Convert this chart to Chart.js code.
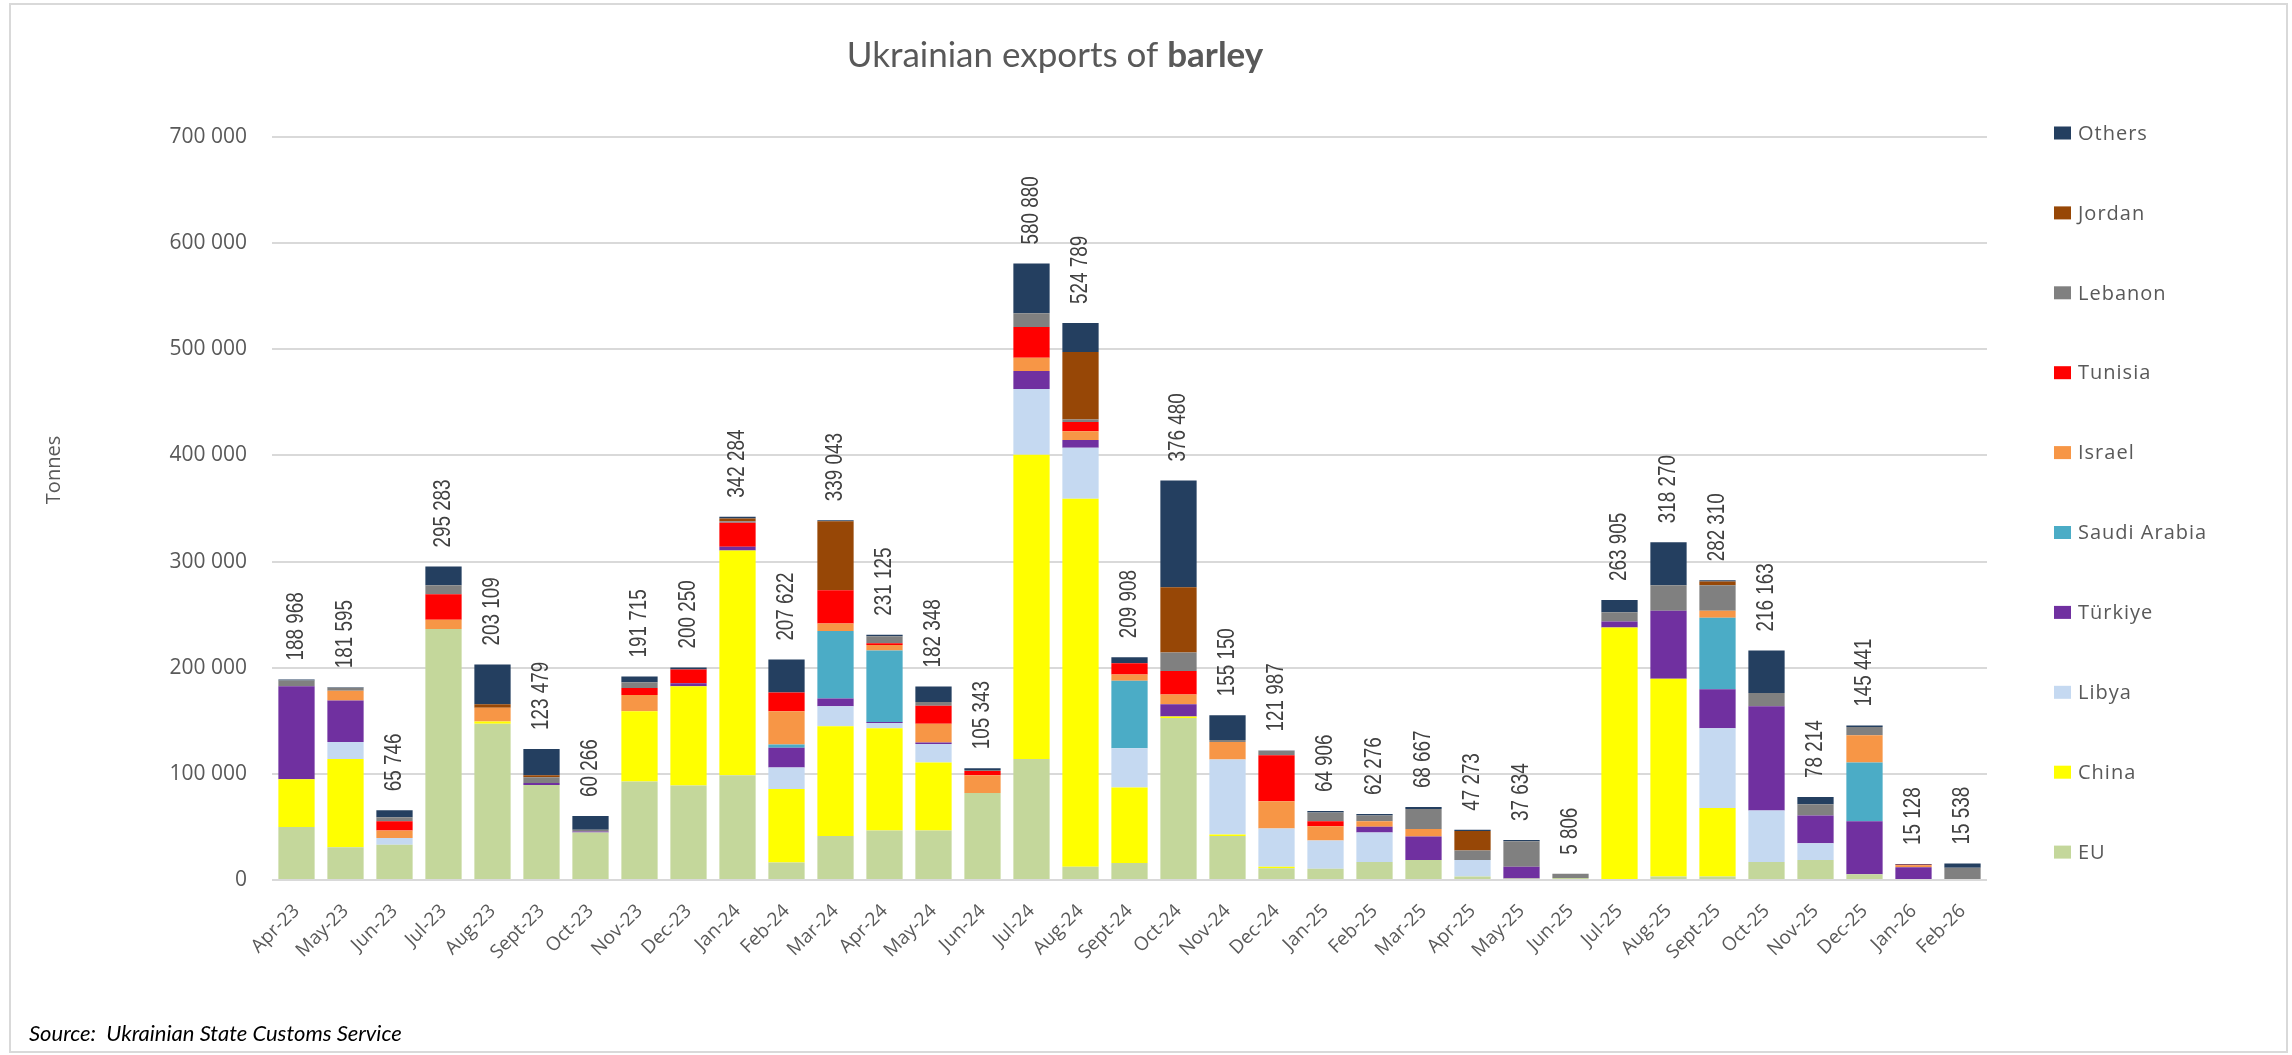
<!DOCTYPE html>
<html>
<head>
<meta charset="utf-8">
<title>Ukrainian exports of barley</title>
<script src="https://cdn.jsdelivr.net/npm/chart.js@4.4.1/dist/chart.umd.min.js"></script>
<style>
  body { margin: 0; background: #ffffff; }
  #wrap { width: 2292px; height: 1055px; }
</style>
</head>
<body>
<div id="wrap"><canvas id="barleyChart" width="2292" height="1055"></canvas></div>
<script>
// ======================== DATA ========================

const months = [
  "Apr-23", "May-23", "Jun-23", "Jul-23", "Aug-23", "Sept-23", "Oct-23", "Nov-23", "Dec-23",
  "Jan-24", "Feb-24", "Mar-24", "Apr-24", "May-24", "Jun-24", "Jul-24", "Aug-24", "Sept-24",
  "Oct-24", "Nov-24", "Dec-24", "Jan-25", "Feb-25", "Mar-25", "Apr-25", "May-25", "Jun-25",
  "Jul-25", "Aug-25", "Sept-25", "Oct-25", "Nov-25", "Dec-25", "Jan-26", "Feb-26"
];

// totals shown above each bar (tonnes)
const monthTotals = [
  188968, 181595, 65746, 295283, 203109, 123479, 60266, 191715, 200250,
  342284, 207622, 339043, 231125, 182348, 105343, 580880, 524789, 209908,
  376480, 155150, 121987, 64906, 62276, 68667, 47273, 37634, 5806,
  263905, 318270, 282310, 216163, 78214, 145441, 15128, 15538
];

const eu = [
  50000, 30800, 33200, 236400, 147300, 89600, 44800, 92900, 89100,
  98700, 16400, 41400, 46700, 46700, 81900, 114100, 12500, 15900,
  152600, 41400, 11100, 10600, 16900, 18800, 3400, 1500, 1900,
  0, 3400, 3400, 16900, 18800, 5300, 0, 1000
];
const china = [
  44900, 83300, 0, 0, 2000, 0, 0, 66000, 93400,
  211800, 69300, 103500, 96300, 64000, 0, 286500, 346700, 71200,
  1500, 1500, 1500, 0, 0, 0, 0, 0, 0,
  237800, 186300, 64500, 0, 0, 0, 0, 0
];
const libya = [
  0, 15900, 6300, 0, 0, 0, 0, 0, 0,
  0, 20200, 18800, 4800, 17400, 0, 62100, 48100, 37100,
  0, 70700, 36000, 26500, 27900, 0, 15400, 0, 0,
  0, 0, 75100, 48600, 15900, 0, 0, 0
];
const turkiye = [
  87600, 39000, 0, 0, 0, 1900, 1000, 0, 2900,
  3400, 18800, 7200, 1000, 1500, 0, 16800, 7200, 0,
  11500, 0, 0, 0, 5300, 22100, 0, 11000, 0,
  5800, 64000, 36600, 98200, 26000, 50100, 12000, 0
];
const saudiArabia = [
  0, 0, 0, 0, 0, 0, 0, 0, 0,
  0, 2900, 63600, 67400, 0, 0, 0, 0, 63600,
  0, 0, 0, 0, 0, 0, 0, 0, 0,
  0, 0, 67400, 0, 0, 55300, 0, 0
];
const israel = [
  0, 9200, 7200, 8700, 13000, 0, 0, 15400, 0,
  0, 31300, 7200, 5300, 17700, 16800, 12600, 8200, 5700,
  9200, 16400, 25500, 13500, 5300, 7200, 0, 0, 0,
  0, 0, 6700, 0, 0, 25600, 1900, 0
];
const tunisia = [
  0, 0, 8700, 24000, 0, 0, 0, 6700, 13000,
  22600, 17800, 31300, 1500, 16900, 3900, 28800, 8700, 10600,
  22100, 0, 43400, 4800, 0, 0, 0, 0, 0,
  0, 0, 0, 0, 0, 0, 500, 0
];
const lebanon = [
  5500, 3000, 3800, 8700, 0, 5300, 1500, 5300, 0,
  1500, 0, 0, 6700, 3400, 1000, 13000, 2400, 0,
  17400, 1900, 4300, 8200, 5300, 18800, 9100, 24100, 3906,
  8700, 24100, 24100, 12500, 10600, 7800, 0, 10600
];
const jordan = [
  0, 0, 0, 0, 3300, 1900, 0, 0, 0,
  2500, 0, 65000, 0, 0, 0, 0, 63600, 0,
  61600, 0, 0, 0, 0, 0, 18300, 0, 0,
  0, 0, 3400, 0, 0, 0, 0, 0
];
const others = [
  968, 395, 6546, 17483, 37509, 24779, 12966, 5415, 1850,
  1784, 30922, 1043, 1425, 14748, 1743, 46980, 27389, 5808,
  100580, 23250, 187, 1306, 1576, 1767, 1073, 1034, 0,
  11605, 40470, 1110, 39963, 6914, 1341, 728, 3938
];

const yTicks = [0, 100000, 200000, 300000, 400000, 500000, 600000, 700000];

// ======================== HELPERS ========================

function spaced(n) {
  return String(Math.round(n)).replace(/\B(?=(\d{3})+(?!\d))/g, " ");
}

const GREY = "#595959";

// title, legend, totals, axis title, source line and frame
const decorPlugin = {
  id: "decor",
  beforeDraw(chart) {
    const ctx = chart.ctx;
    ctx.save();
    ctx.fillStyle = "#ffffff";
    ctx.fillRect(0, 0, chart.width, chart.height);
    ctx.strokeStyle = "#d9d9d9";
    ctx.lineWidth = 2;
    ctx.strokeRect(10, 4, chart.width - 15, chart.height - 7);
    ctx.restore();
  },
  afterDatasetsDraw(chart) {
    const ctx = chart.ctx;
    const yScale = chart.scales.y;
    const xScale = chart.scales.x;

    // totals above bars, rotated, narrow face
    ctx.save();
    ctx.fillStyle = "#404040";
    ctx.font = "23px 'Liberation Sans', Arial, sans-serif";
    ctx.textAlign = "left";
    ctx.textBaseline = "middle";
    months.forEach((m, i) => {
      const stackTop = chart.data.datasets.reduce((s, ds) => s + (ds.data[i] || 0), 0);
      const x = xScale.getPixelForValue(i);
      const y = yScale.getPixelForValue(stackTop) - 19;
      ctx.save();
      ctx.translate(x, y);
      ctx.rotate(-Math.PI / 2);
      ctx.scale(0.82, 1);
      ctx.fillText(spaced(monthTotals[i]), 0, 0);
      ctx.restore();
    });
    ctx.restore();
  },
  afterDraw(chart) {
    const ctx = chart.ctx;

    // title with bold last word
    ctx.save();
    ctx.fillStyle = GREY;
    ctx.textBaseline = "alphabetic";
    const normal = "35px Lato, 'Open Sans', sans-serif";
    const bold = "bold 35px Lato, 'Open Sans', sans-serif";
    const part1 = "Ukrainian exports of ";
    const part2 = "barley";
    ctx.font = normal;
    const w1 = ctx.measureText(part1).width;
    ctx.font = bold;
    const w2 = ctx.measureText(part2).width;
    const startX = 1055 - (w1 + w2) / 2;
    ctx.font = normal;
    ctx.fillText(part1, startX, 67);
    ctx.font = bold;
    ctx.fillText(part2, startX + w1, 67);
    ctx.restore();

    // y axis title
    ctx.save();
    ctx.fillStyle = GREY;
    ctx.font = "20px 'Open Sans', sans-serif";
    ctx.textAlign = "center";
    ctx.textBaseline = "middle";
    ctx.translate(54, 470);
    ctx.rotate(-Math.PI / 2);
    ctx.fillText("Tonnes", 0, 0);
    ctx.restore();

    // legend: Others on top, EU at the bottom
    ctx.save();
    ctx.font = "20px 'Open Sans', sans-serif";
    ctx.letterSpacing = "1px";
    ctx.textBaseline = "middle";
    const items = chart.data.datasets.slice().reverse();
    items.forEach((ds, k) => {
      const cy = 133 + k * 79.9;
      ctx.fillStyle = ds.backgroundColor;
      ctx.fillRect(2054, cy - 6.5, 17, 13);
      ctx.fillStyle = GREY;
      ctx.fillText(ds.label, 2078, cy + 1);
    });
    ctx.restore();

    // source line
    ctx.save();
    ctx.fillStyle = "#000000";
    ctx.font = "italic 22px Lato, 'Open Sans', sans-serif";
    ctx.textBaseline = "alphabetic";
    ctx.fillText("Source:  Ukrainian State Customs Service", 29, 1041);
    ctx.restore();
  }
};

// ======================== CHART ========================

function makeSet(label, data, color) {
  return {
    label,
    data,
    backgroundColor: color,
    borderWidth: 0,
    barPercentage: 0.74,
    categoryPercentage: 1.0
  };
}

const ctxBarley = document.getElementById("barleyChart").getContext("2d");

new Chart(ctxBarley, {
  type: "bar",
  data: {
    labels: months,
    datasets: [
      makeSet("EU", eu, "#c4d79b"),
      makeSet("China", china, "#ffff00"),
      makeSet("Libya", libya, "#c5d9f1"),
      makeSet("Türkiye", turkiye, "#7030a0"),
      makeSet("Saudi Arabia", saudiArabia, "#4bacc6"),
      makeSet("Israel", israel, "#f79646"),
      makeSet("Tunisia", tunisia, "#ff0000"),
      makeSet("Lebanon", lebanon, "#808080"),
      makeSet("Jordan", jordan, "#974706"),
      makeSet("Others", others, "#243f60")
    ]
  },
  options: {
    responsive: false,
    animation: false,
    layout: { padding: { left: 0, top: 137, right: 305, bottom: 0 } },
    plugins: {
      legend: { display: false },
      title: { display: false },
      tooltip: { enabled: false }
    },
    scales: {
      x: {
        stacked: true,
        grid: { display: false },
        border: { display: false },
        ticks: {
          autoSkip: false,
          maxRotation: 45,
          minRotation: 45,
          padding: 12,
          color: GREY,
          font: { family: "'Open Sans', sans-serif", size: 19 }
        },
        afterFit(scale) { scale.height = 175; }
      },
      y: {
        stacked: true,
        min: 0,
        max: 700000,
        afterBuildTicks(scale) {
          scale.ticks = yTicks.map((v) => ({ value: v }));
        },
        grid: { color: "#d9d9d9", lineWidth: 2, drawTicks: false },
        border: { display: false },
        ticks: {
          padding: 25,
          color: GREY,
          font: { family: "'Open Sans', sans-serif", size: 21 },
          callback: (v) => spaced(v)
        },
        afterFit(scale) { scale.width = 272; }
      }
    }
  },
  plugins: [decorPlugin]
});
</script>
</body>
</html>
